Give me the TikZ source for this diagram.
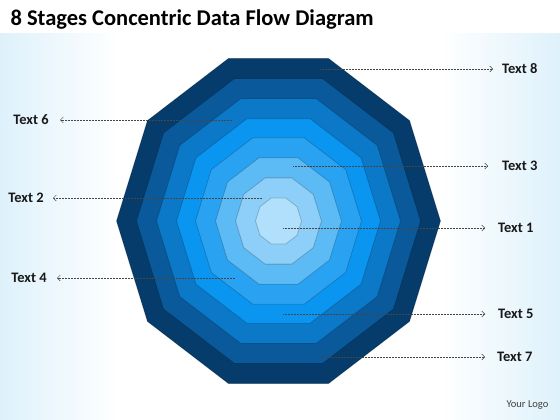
\documentclass[tikz,border=0pt]{standalone}
\usepackage{fontspec}
\setmainfont{Carlito}
\usepackage{xcolor}
\usepackage{tikz}
\usetikzlibrary{arrows.meta}
\definecolor{layerA}{RGB}{5,60,107}
\definecolor{layerB}{RGB}{10,90,155}
\definecolor{layerC}{RGB}{12,120,200}
\definecolor{layerD}{RGB}{10,150,240}
\definecolor{layerE}{RGB}{42,162,242}
\definecolor{layerF}{RGB}{92,186,245}
\definecolor{layerG}{RGB}{141,207,248}
\definecolor{layerH}{RGB}{176,224,251}
\definecolor{bgblue}{RGB}{222,241,251}
\definecolor{leadgray}{RGB}{70,70,70}
\tikzset{
  ring/.style={draw=black, draw opacity=0.2, line width=0.8pt},
  leader/.style={leadgray, line width=0.5pt, dash pattern=on 0.6pt off 0.9pt, -{Straight Barb[length=3pt,width=6pt]}},
  txtlabel/.style={font=\fontsize{14.5}{17}\selectfont\bfseries, text=black!90, inner sep=0pt}
}

\begin{document}
\begin{tikzpicture}[x=1pt,y=-1pt]
				\useasboundingbox (0,0) rectangle (560,420);
				\fill[white] (0,0) rectangle (560,420);
				\shade[left color=bgblue, right color=white] (0,34) rectangle (120,420);
				\shade[left color=white, right color=bgblue] (440,34) rectangle (560,420);
				\foreach \r/\c in {162/layerA,142/layerB,122/layerC,102/layerD,83/layerE,63/layerF,43/layerG,23/layerH}
					\fill[\c, ring] plot[samples at={0,36,...,324}] ({278.5+\r*cos(\x)},{221+1.055*\r*sin(\x)}) -- cycle;
				\node[anchor=base west, font=\fontsize{22.5}{26}\selectfont\bfseries] (title) at (7,26) {8 Stages Concentric Data Flow Diagram};
				\coordinate (p8) at (320,69);
				\coordinate (p6) at (232,120);
				\coordinate (p3) at (293,166);
				\coordinate (p2) at (262,198);
				\coordinate (p1) at (283,228);
				\coordinate (p4) at (235,278);
				\coordinate (p5) at (283,314);
				\coordinate (p7) at (318,357);
				\node[txtlabel, anchor=west] (t8) at (502,69) {Text 8};
				\node[txtlabel, anchor=east] (t6) at (49,120) {Text 6};
				\node[txtlabel, anchor=west] (t3) at (502,166) {Text 3};
				\node[txtlabel, anchor=east] (t2) at (44,198) {Text 2};
				\node[txtlabel, anchor=west] (t1) at (498,228) {Text 1};
				\node[txtlabel, anchor=east] (t4) at (47,278) {Text 4};
				\node[txtlabel, anchor=west] (t5) at (498,314) {Text 5};
				\node[txtlabel, anchor=west] (t7) at (497,357) {Text 7};
				\draw[leader, shorten >=9pt] (p8) -- (t8.west);
				\draw[leader, shorten >=11pt] (p6) -- (t6.east);
				\draw[leader, shorten >=14pt] (p3) -- (t3.west);
				\draw[leader, shorten >=9pt] (p2) -- (t2.east);
				\draw[leader, shorten >=13pt] (p1) -- (t1.west);
				\draw[leader, shorten >=10pt] (p4) -- (t4.east);
				\draw[leader, shorten >=13pt] (p5) -- (t5.west);
				\draw[leader, shorten >=12pt] (p7) -- (t7.west);
				\node[font=\fontsize{10.5}{12}\selectfont, text=black!75] (logo) at (527.5,405) {Your Logo};
			\end{tikzpicture}
\end{document}
